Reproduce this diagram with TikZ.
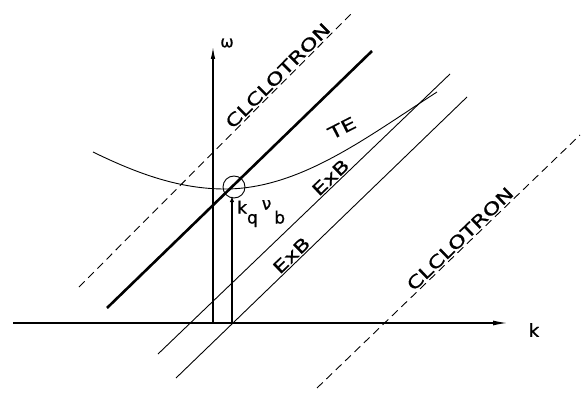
\documentclass[tikz,border=0pt]{standalone}
\usepackage{fontspec}
\setmainfont{DejaVu Sans}
\usepackage{graphicx}
\usepackage{tikz}
\usetikzlibrary{arrows.meta}
\newcommand{\widetxt}[1]{\scalebox{1.35}[1]{#1}}

\begin{document}
\begin{tikzpicture}[
  x=1pt, y=-1pt,
  ax/.style={line width=1.1pt},
  exbline/.style={line width=0.9pt},
  beamline/.style={line width=2.6pt},
  cycline/.style={line width=0.9pt, dash pattern=on 8pt off 5pt},
  lab/.style={font=\fontsize{17}{19}\selectfont\addfontfeature{FakeBold=0.8}, inner sep=1.5pt}
]
  \useasboundingbox (0,0) rectangle (581,396);
  % axes (pixel coordinates, y downwards)
  \draw[ax, -{Latex[length=14pt,width=5pt]}] (13,323) -- (507,323);
  \node[lab, font=\fontsize{18}{20}\selectfont\addfontfeature{FakeBold=1.2}] (klab) at (534,330) {k};
  \draw[ax, -{Latex[length=12pt,width=4.5pt]}] (213,323) -- (213,47);
  \node[lab, font=\fontsize{16}{18}\selectfont\addfontfeature{FakeBold=0.8}] (wlab) at (227,43) {ω};

  % cyclotron resonances
  \draw[cycline] (79,287) -- (352,13)
    node[lab, pos=0.75, sloped, above] (cyc1) {\widetxt{CLCLOTRON}};
  \draw[cycline] (317,388) -- (580,135)
    node[lab, pos=0.566, sloped, above] (cyc2) {\widetxt{CLCLOTRON}};

  % beam line
  \draw[beamline] (107,308) -- (372,51);

  % ExB lines
  \draw[exbline] (158,354) -- (450,74)
    node[lab, pos=0.61, sloped, above] (exb1) {\widetxt{ExB}};
  \draw[exbline] (176,378) -- (467,97)
    node[lab, pos=0.416, sloped, above] (exb2) {\widetxt{ExB}};

  % TE mode
  \draw[exbline] (93,152) .. controls (138,174) and (180,189) .. (225,189)
    .. controls (300,189) and (367,137) .. (437,92);
  \node[lab, rotate=27] (telab) at (342,128) {\widetxt{TE}};

  % interaction point
  \node[circle, draw, line width=0.9pt, minimum size=22pt, inner sep=0pt] (res) at (234,187) {};
  \draw[ax, line width=1.3pt, -{Latex[length=6pt,width=4.5pt]}] (232,323) -- (232,196);
  \node[lab, inner sep=0pt, anchor=base west] (kvlab) at (237,213.5)
    {k\raisebox{-10pt}{q}\hspace{4pt}\raisebox{4pt}{ν}\hspace{3pt}\raisebox{-10pt}{b}};
\end{tikzpicture}
\end{document}
